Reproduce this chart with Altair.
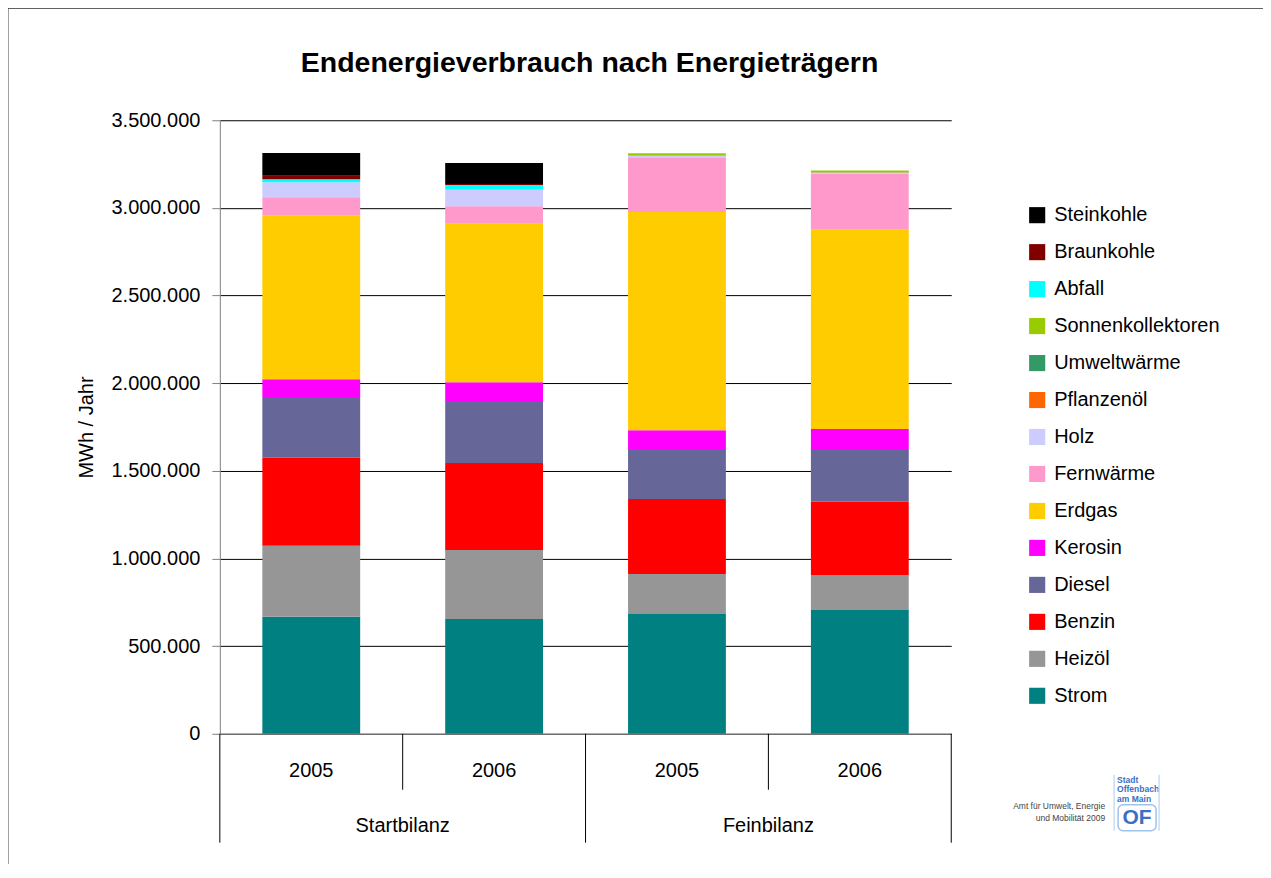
import altair as alt
import pandas as pd

# ---------------- data ----------------
carriers = ["Strom", "Heizöl", "Benzin", "Diesel", "Kerosin", "Erdgas", "Fernwärme",
            "Holz", "Pflanzenöl", "Umweltwärme", "Sonnenkollektoren", "Abfall",
            "Braunkohle", "Steinkohle"]
colors = ["#008080", "#969696", "#FF0000", "#666699", "#FF00FF", "#FFCC00", "#FF99CC",
          "#CCCCFF", "#FF6600", "#339966", "#99CC00", "#00FFFF", "#800000", "#000000"]

bars = ["Startbilanz 2005", "Startbilanz 2006", "Feinbilanz 2005", "Feinbilanz 2006"]
groups = ["Startbilanz", "Feinbilanz"]

start_2005 = [667000, 405000, 502000, 342000, 107000, 935000, 103000, 86000, 0, 0, 0, 17000, 19000, 130000]
start_2006 = [654000, 394000, 496000, 354000, 108000, 903000, 101000, 93000, 0, 0, 0, 27000, 6000, 120000]
fein_2005 = [683000, 228000, 428000, 285000, 108000, 1245000, 312000, 9000, 1000, 1000, 12000, 0, 0, 0]
fein_2006 = [706000, 200000, 418000, 301000, 114000, 1137000, 320000, 5000, 1000, 1000, 10000, 0, 0, 0]

y_ticks = [0, 500000, 1000000, 1500000, 2000000, 2500000, 3000000, 3500000]

title_text = "Endenergieverbrauch nach Energieträgern"
note_text = "Amt für Umwelt, Energie\nund Mobilität 2009"
logo_text = "Stadt\nOffenbach\nam Main"

series = [start_2005, start_2006, fein_2005, fein_2006]
rows = []
for b, vals in zip(bars, series):
    for i, (c, v) in enumerate(zip(carriers, vals)):
        rows.append({"key": b, "carrier": c, "value": v, "ord": i})
df = pd.DataFrame(rows)

FONT = "Liberation Sans"
W, H = 732, 614

x_axis = alt.Axis(title=None, labelExpr="split(datum.label, ' ')[1]", ticks=False,
                  tickSize=0, labelPadding=27, labelFontSize=20, labelFont=FONT,
                  labelColor="#000000", domainColor="#808080", labelAngle=0,
                  grid=False)
x_enc = alt.X("key:N", sort=bars, axis=x_axis,
              scale=alt.Scale(paddingInner=0, paddingOuter=0))

bar_layer = alt.Chart(df).mark_bar(width={"band": 0.535}).encode(
    x=x_enc,
    y=alt.Y("sum(value):Q", stack="zero",
            scale=alt.Scale(domain=[0, 3500000], nice=False),
            axis=alt.Axis(title="MWh / Jahr", values=y_ticks,
                          labelExpr="replace(format(datum.value, ','), regexp(',', 'g'), '.')",
                          labelFontSize=20, labelFont=FONT, labelColor="#000000",
                          titleFont=FONT, titleFontSize=20, titleFontWeight="normal",
                          titleColor="#000000", titlePadding=14,
                          tickSize=8, tickColor="#808080", domainColor="#808080",
                          labelPadding=12,
                          gridColor="#000000", gridWidth=1, gridOpacity=1)),
    color=alt.Color("carrier:N",
                    scale=alt.Scale(domain=carriers[::-1], range=colors[::-1]),
                    legend=alt.Legend(title=None, orient="none", legendX=808, legendY=85,
                                      symbolType="square", symbolSize=260,
                                      symbolStrokeWidth=0, labelFont=FONT,
                                      labelFontSize=20, labelColor="#000000",
                                      labelOffset=7, rowPadding=17, labelLimit=300,
                                      padding=0)),
    order=alt.Order("ord:Q", sort="ascending"),
)

div_df = pd.DataFrame({"key": bars})

long_left = alt.Chart(div_df[div_df["key"].isin(["Startbilanz 2005", "Feinbilanz 2005"])]).mark_rule(
    color="#000000", strokeWidth=1).encode(
    x=alt.X("key:N", sort=bars, axis=x_axis, bandPosition=0),
    y=alt.value(H), y2=alt.value(H + 109))
long_right = alt.Chart(div_df[div_df["key"] == "Feinbilanz 2006"]).mark_rule(
    color="#000000", strokeWidth=1).encode(
    x=alt.X("key:N", sort=bars, axis=x_axis, bandPosition=1),
    y=alt.value(H), y2=alt.value(H + 109))
short_div = alt.Chart(div_df[div_df["key"].isin(["Startbilanz 2006", "Feinbilanz 2006"])]).mark_rule(
    color="#000000", strokeWidth=1).encode(
    x=alt.X("key:N", sort=bars, axis=x_axis, bandPosition=0),
    y=alt.value(H), y2=alt.value(H + 56))

grp_df = pd.DataFrame({"key": ["Startbilanz 2006", "Feinbilanz 2006"], "grp": groups})
grp_text = alt.Chart(grp_df).mark_text(font=FONT, fontSize=20, color="#000000",
                                       baseline="middle", align="center").encode(
    x=alt.X("key:N", sort=bars, axis=x_axis, bandPosition=0),
    y=alt.value(H + 92), text="grp:N")

# chart title (as text)
title = alt.Chart(pd.DataFrame({"t": [title_text]})).mark_text(
    font=FONT, fontSize=28.5, fontWeight="bold", color="#000000",
    align="center", baseline="middle").encode(
    x=alt.value(W / 2 + 4), y=alt.value(-57), text="t:N")

# footer / logo annotations
note = alt.Chart(pd.DataFrame({"t": [note_text]})).mark_text(
    font=FONT, fontSize=8.5, color="#444444", align="right", baseline="middle",
    lineBreak="\n", lineHeight=12).encode(
    x=alt.value(886), y=alt.value(686), text="t:N")

logo_txt = alt.Chart(pd.DataFrame({"t": [logo_text]})).mark_text(
    font=FONT, fontSize=8.5, fontWeight="bold", color="#3A6FC4",
    align="left", baseline="top", lineBreak="\n", lineHeight=9.5).encode(
    x=alt.value(898), y=alt.value(656), text="t:N")
of_df = pd.DataFrame({"t": ["OF"]})
of_txt = alt.Chart(of_df).mark_text(font=FONT, fontSize=21, fontWeight="bold",
                                    color="#3A6FC4", align="center", baseline="middle").encode(
    x=alt.value(918), y=alt.value(698), text="t:N")
of_box = alt.Chart(of_df).mark_rect(fill=None, stroke="#9EC3EC", strokeWidth=1.5,
                                    cornerRadius=5).encode(
    x=alt.value(899), x2=alt.value(937), y=alt.value(685), y2=alt.value(711))
logo_side = alt.Chart(pd.DataFrame({"s": [895, 940]})).mark_rule(
    color="#C9DDF3", strokeWidth=1.5).encode(
    x=alt.X("s:Q", scale=None), y=alt.value(655), y2=alt.value(711))

# outer frame lines (left and top)
frame_left = alt.Chart(pd.DataFrame({"a": [0]})).mark_rule(color="#404040").encode(
    x=alt.value(-212), y=alt.value(-112), y2=alt.value(750))
frame_top = alt.Chart(pd.DataFrame({"a": [0]})).mark_rule(color="#404040").encode(
    x=alt.value(-212), x2=alt.value(1060), y=alt.value(-112))

chart = alt.layer(
    bar_layer, long_left, long_right, short_div, grp_text, title,
    note, logo_txt, of_box, of_txt, logo_side, frame_left, frame_top
).properties(
    width=W, height=H,
    autosize=alt.AutoSizeParams(type="none"),
    padding={"left": 212, "top": 112, "right": 312, "bottom": 130},
).configure(font=FONT).configure_view(stroke=None)

chart.save("out.html", embed_options={"renderer": "svg", "actions": False})
